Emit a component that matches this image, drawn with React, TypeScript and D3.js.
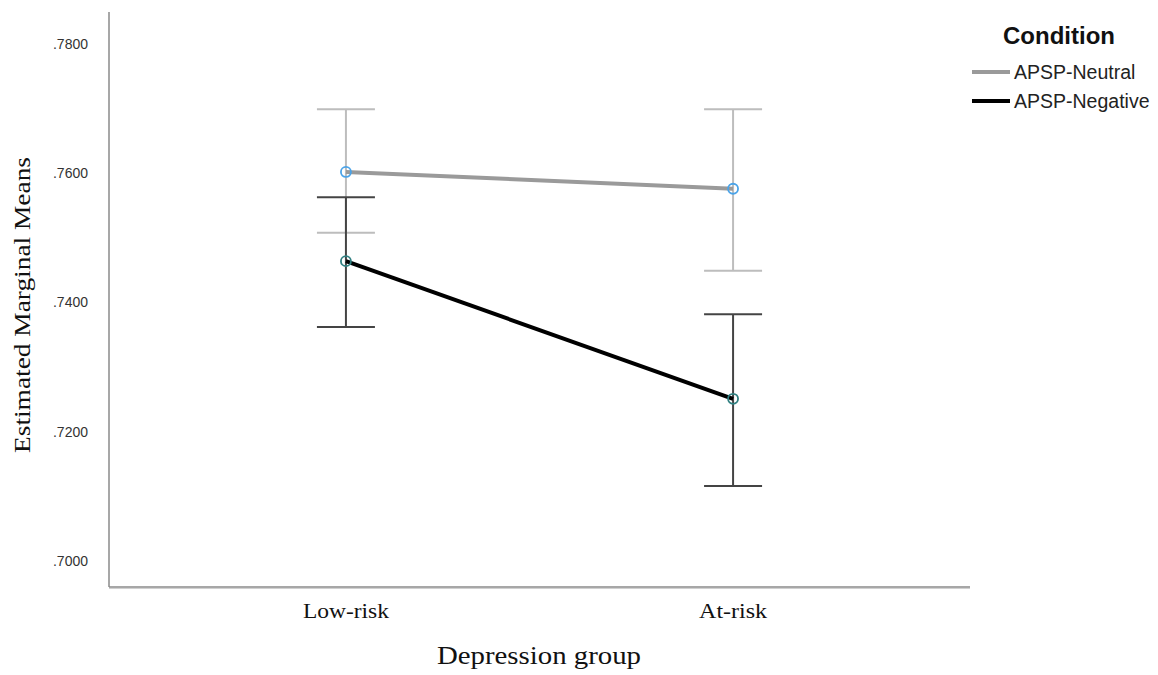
import React from 'react';
import * as d3 from 'd3';

const groups = ['Low-risk', 'At-risk'];
const conditions = ['APSP-Neutral', 'APSP-Negative'];
const means = [
  [0.7602, 0.7576],
  [0.7464, 0.7251],
];
const upper = [
  [0.7699, 0.7699],
  [0.7563, 0.7382],
];
const lower = [
  [0.7508, 0.7449],
  [0.7362, 0.7116],
];
const yTicks = [0.7, 0.72, 0.74, 0.76, 0.78];

const lineColors = ['#9a9a9a', '#000000'];
const barColors = ['#bdbdbd', '#444444'];
const dotColors = ['#4aa3e8', '#2f7f80'];
const groupLabelWidths = [86, 68];

const App = () => {
  const width = 1158;
  const height = 675;
  const left = 109;
  const right = 970;
  const top = 12;
  const bottom = 587;

  const x = d3.scalePoint().domain(groups).range([left, right]).padding(0.612);
  const y = d3.scaleLinear().domain([0.7, 0.78]).range([561, 44]);

  const line = d3
    .line<number>()
    .x((_, i) => x(groups[i]) as number)
    .y((d) => y(d));

  const cap = 29;
  const fmt = (v: number) => d3.format('.4f')(v).replace(/^0/, '');
  const serif = 'Liberation Serif, Times New Roman, serif';
  const sans = 'Liberation Sans, Arial, sans-serif';

  return (
    <svg
      width={width}
      height={height}
      style={{ display: 'block', position: 'absolute', top: 0, left: 0 }}
    >
      <rect width={width} height={height} fill="#fff" />
      {/* axes */}
      <line x1={left} x2={left} y1={top} y2={bottom} stroke="#8a8a8a" strokeWidth={1.5} />
      <line x1={left} x2={right} y1={bottom} y2={bottom} stroke="#8a8a8a" strokeWidth={1.5} />
      <line x1={left} x2={right} y1={bottom + 1.5} y2={bottom + 1.5} stroke="#d0d0d0" strokeWidth={1} />
      {yTicks.map((t) => (
        <text key={t} x={88} y={y(t)} dy="0.35em" textAnchor="end" fontFamily={sans} fontSize={14} fill="#333">
          {fmt(t)}
        </text>
      ))}
      {groups.map((g, i) => (
        <text
          key={g}
          x={x(g)}
          y={618}
          textAnchor="middle"
          fontFamily={serif}
          fontSize={21}
          textLength={groupLabelWidths[i]}
          lengthAdjust="spacingAndGlyphs"
          fill="#111"
        >
          {g}
        </text>
      ))}
      <text
        x={539}
        y={664}
        textAnchor="middle"
        fontFamily={serif}
        fontSize={25}
        textLength={204}
        lengthAdjust="spacingAndGlyphs"
        fill="#111"
      >
        Depression group
      </text>
      <text
        transform="translate(30,305) rotate(-90)"
        textAnchor="middle"
        fontFamily={serif}
        fontSize={23}
        textLength={296}
        lengthAdjust="spacingAndGlyphs"
        fill="#111"
      >
        Estimated Marginal Means
      </text>

      {/* error bars */}
      {conditions.map((c, ci) =>
        groups.map((g, gi) => {
          const cx = x(g) as number;
          return (
            <g key={c + g} stroke={barColors[ci]} strokeWidth={2}>
              <line x1={cx} x2={cx} y1={y(upper[ci][gi])} y2={y(lower[ci][gi])} />
              <line x1={cx - cap} x2={cx + cap} y1={y(upper[ci][gi])} y2={y(upper[ci][gi])} />
              <line x1={cx - cap} x2={cx + cap} y1={y(lower[ci][gi])} y2={y(lower[ci][gi])} />
            </g>
          );
        })
      )}

      {/* mean lines */}
      {conditions.map((c, ci) => (
        <path key={c} d={line(means[ci]) || ''} fill="none" stroke={lineColors[ci]} strokeWidth={4} />
      ))}
      {conditions.map((c, ci) =>
        groups.map((g, gi) => (
          <circle
            key={c + g + 'dot'}
            cx={x(g)}
            cy={y(means[ci][gi])}
            r={5}
            fill="none"
            stroke={dotColors[ci]}
            strokeWidth={1.8}
          />
        ))
      )}

      {/* legend */}
      <text x={1059} y={44} textAnchor="middle" fontFamily={sans} fontWeight="bold" fontSize={24} fill="#111">
        Condition
      </text>
      {conditions.map((c, ci) => (
        <g key={c} transform={`translate(0,${72 + ci * 29})`}>
          <line x1={972} x2={1010} y1={0} y2={0} stroke={lineColors[ci]} strokeWidth={4} />
          <text x={1014} y={0} dy="0.35em" fontFamily={sans} fontSize={19.5} fill="#222">
            {c}
          </text>
        </g>
      ))}
    </svg>
  );
};

export default App;
